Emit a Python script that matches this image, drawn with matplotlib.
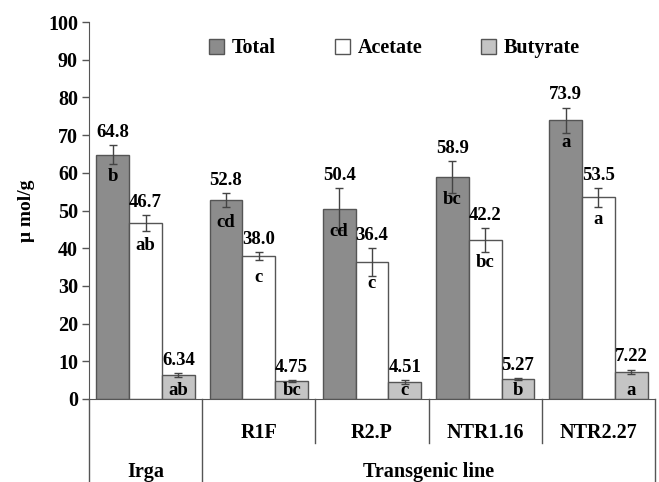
import matplotlib
matplotlib.use("Agg")
import matplotlib.pyplot as plt
import numpy as np
from matplotlib.transforms import blended_transform_factory
from matplotlib.patches import Patch

plt.rcParams['font.family'] = ['Liberation Serif', 'DejaVu Serif']
plt.rcParams['font.weight'] = 'bold'

lines = ["Irga", "R1F", "R2.P", "NTR1.16", "NTR2.27"]
series = ["Total", "Acetate", "Butyrate"]
total = [64.8, 52.8, 50.4, 58.9, 73.9]
acetate = [46.7, 38.0, 36.4, 42.2, 53.5]
butyrate = [6.34, 4.75, 4.51, 5.27, 7.22]
total_err = [2.5, 1.8, 5.6, 4.2, 3.4]
acetate_err = [2.1, 1.0, 3.7, 3.1, 2.5]
butyrate_err = [0.6, 0.3, 0.4, 0.3, 0.6]
total_lab = ["64.8", "52.8", "50.4", "58.9", "73.9"]
acetate_lab = ["46.7", "38.0", "36.4", "42.2", "53.5"]
butyrate_lab = ["6.34", "4.75", "4.51", "5.27", "7.22"]
total_sig = ["b", "cd", "cd", "bc", "a"]
acetate_sig = ["ab", "c", "c", "bc", "a"]
butyrate_sig = ["ab", "bc", "c", "b", "a"]
group_label = "Transgenic line"
y_label = "μ mol/g"
y_ticks = [0, 10, 20, 30, 40, 50, 60, 70, 80, 90, 100]

colors = ["#8c8c8c", "#ffffff", "#c4c4c4"]
edge = "#555555"

fig = plt.figure(figsize=(6.59, 4.82), dpi=100)
ax = fig.add_axes([89/659, 83/482, (655-89)/659, (399-22)/482])

x = np.arange(len(lines))
w = 0.29
data = [total, acetate, butyrate]
errs = [total_err, acetate_err, butyrate_err]
labs = [total_lab, acetate_lab, butyrate_lab]
sigs = [total_sig, acetate_sig, butyrate_sig]
for i in range(3):
    xs = x + (i - 1) * w
    ax.bar(xs, data[i], width=w, color=colors[i], edgecolor=edge, linewidth=1.0, zorder=2)
    ax.errorbar(xs, data[i], yerr=errs[i], fmt='none', ecolor='#444444',
                elinewidth=1.0, capsize=3, capthick=1.0, zorder=3)
    for j in range(len(lines)):
        top = data[i][j] + errs[i][j]
        ax.annotate(labs[i][j], (xs[j], top), xytext=(0, 3), textcoords='offset points',
                    ha='center', va='bottom', fontsize=13.5, fontweight='bold')
        if data[i][j] > 15:
            ax.annotate(sigs[i][j], (xs[j], data[i][j]), xytext=(0, -16),
                        textcoords='offset points', ha='center', va='center',
                        fontsize=13.5, fontweight='bold', zorder=4)
        else:
            ax.text(xs[j], 2.3, sigs[i][j], ha='center', va='center',
                    fontsize=13.5, fontweight='bold', zorder=4)

ax.set_xlim(-0.5, len(lines) - 0.5)
ax.set_ylim(0, 100)
ax.set_yticks(y_ticks)
ax.tick_params(axis='y', direction='out', length=5, width=1, colors='#555555',
               labelcolor='black', labelsize=14.5, pad=3)
for t in ax.get_yticklabels():
    t.set_fontweight('bold')
ax.set_xticks([])
for s in ['top', 'right']:
    ax.spines[s].set_visible(False)
ax.spines['left'].set_color('#555555')
ax.spines['bottom'].set_color('#555555')
ax.spines['left'].set_bounds(0, 100)
ax.set_ylabel(y_label, fontsize=14, fontweight='bold', labelpad=9)

# category table below axis
tr = blended_transform_factory(ax.transData, fig.transFigure)
ybot = 0.0
ymid = (482 - 443) / 482
y0 = 83 / 482
bounds = np.arange(len(lines) + 1) - 0.5
for k, b in enumerate(bounds):
    lo = ybot if k in (0, 1, len(bounds) - 1) else ymid
    ax.plot([b, b], [lo, y0], color='#555555', lw=1.0, transform=tr, clip_on=False)
for j in range(1, len(lines)):
    ax.text(x[j], (482 - 433) / 482, lines[j], transform=tr, ha='center', va='center',
            fontsize=14.5, fontweight='bold')
ax.text(x[0], (482 - 472) / 482, lines[0], transform=tr, ha='center', va='center',
        fontsize=14.5, fontweight='bold')
ax.text((x[1] + x[-1]) / 2, (482 - 472) / 482, group_label, transform=tr, ha='center',
        va='center', fontsize=14.5, fontweight='bold')

handles = [Patch(facecolor=colors[i], edgecolor=edge, label=series[i]) for i in range(3)]
leg = ax.legend(handles=handles, ncol=3, loc='upper left', bbox_to_anchor=(0.18, 1.005),
                frameon=False, handlelength=0.75, handleheight=0.75, handletextpad=0.4,
                columnspacing=2.9, prop={'weight': 'bold', 'size': 14.5})

fig.savefig("out.png", dpi=100)
